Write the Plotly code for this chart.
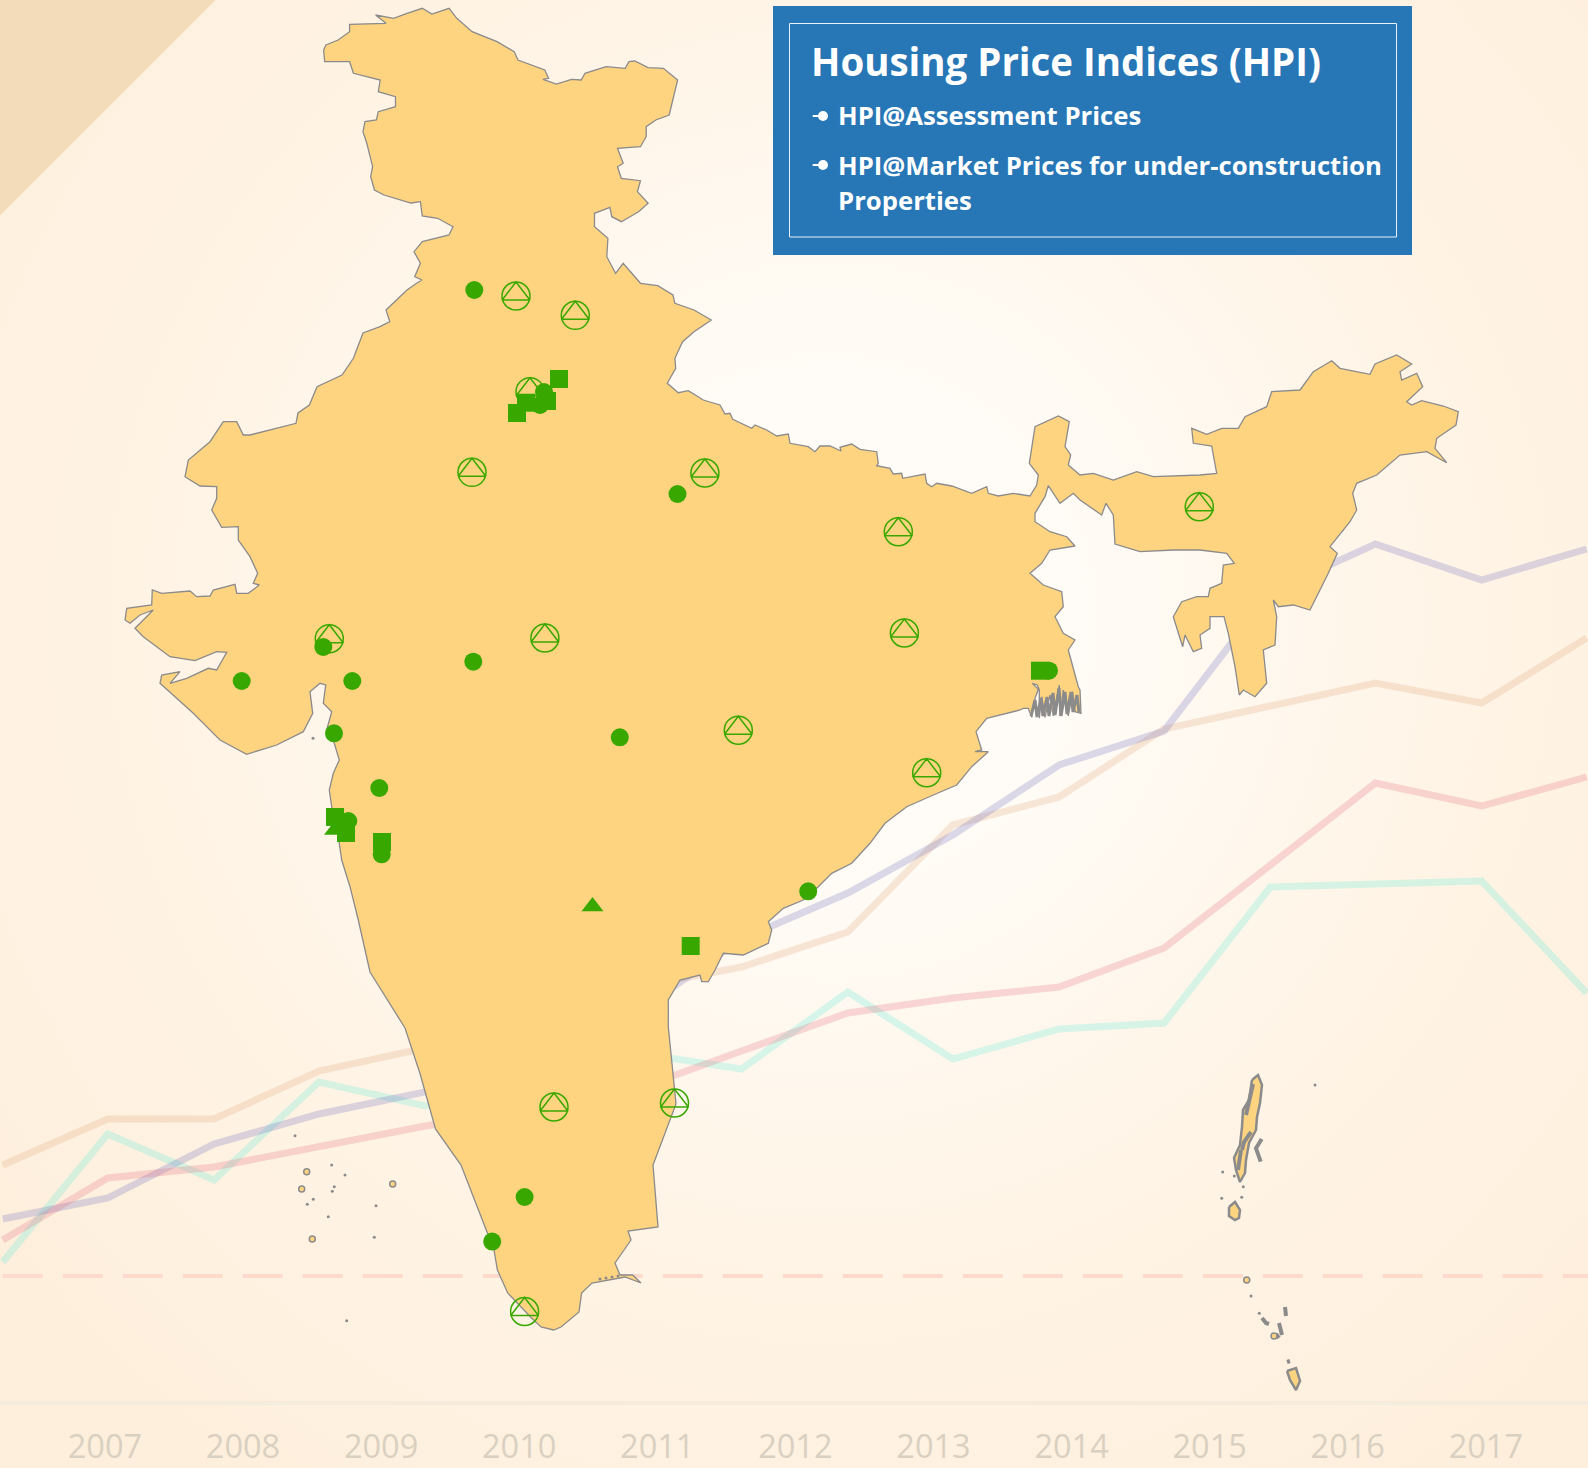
import base64
import plotly.graph_objects as go

# ---------- background line series ----------
periods = [2006.26, 2007.02, 2007.79, 2008.55, 2009.32, 2010.08, 2010.85, 2011.61,
           2012.38, 2013.14, 2013.91, 2014.67, 2015.44, 2016.2, 2016.97, 2017.73]
peach = [236, 282, 282, 330, 353, 388, 414, 434, 469, 576, 604, 672, 695, 718, 698, 763]
purple = [182, 203, 257, 287, 309, 348, 388, 462, 508, 566, 636, 670, 809, 857, 821, 852]
pink = [161, 223, 234, 254, 275, 292, 312, 350, 388, 403, 414, 453, 535, 618, 595, 624]
teal = [139, 267, 221, 319, 295, 327, 348, 332, 409, 342, 372, 378, 514, 517, 520, 408]
base_x = [2006.26, 2017.74]
base_y = [125, 125]
year_ticks = list(range(2007, 2018))

# ---------- map outline (map units, y down), traced in four stretches ----------
north_x = [323.6,325.9,338.1,349.6,349.6,375.6,386,375.6,393.6,407,422.3,431.9,449.1,456.8,472.1,497,514.2,518,544.8,548.6,542.9,556.3,571.6,581.2,585,606,625.2,629,634.7,648.1,663.4,677.6,669.2,655.8,646.2,646.2,640.5,617.5,623.2,617.5,621.3,640.5,637.4,648.1,638.6,621.3,611.8,609.9,594.5,594.5,607.9,606.8,615.6,623.2,640.5,657.7,673,674.9,694,711.3,694,682.6,674.9,675.7]
north_y = [50,45,40,31.7,24.3,23.3,23.3,15,18.3,13.3,8.3,14,8.3,18.3,31.7,41.7,51.7,60,70,78.3,79.3,84,79.3,80,73.3,66.7,68.3,61.7,61,67.7,68.3,80,115,120,126.7,136.7,146.7,148.3,163.3,166.7,178.3,180.7,191.7,203.3,211.7,221.7,216.7,207.3,213.3,226.7,238.3,256.7,273.3,263.3,283.3,285.7,295,303.3,310,320,331.7,341.7,358.3,368.3]
nepal_x = [667.3,678.3,688.3,703.3,720,725,730,732.7,751.7,755,766.7,776.7,788.3,790,808.3,815,820,830,841,840,851.7,860,876.7,878.3,876.7,890,893.3,901.7,902.7,925,926.7,931.7,936.7,951.7,971.7,986.7,988.3,998.3,1013.3,1030,1036.7,1038.3,1029.3,1035]
nepal_y = [383.3,392.7,390.7,400,405,414,413.3,419.3,428.3,425,430,436,434,443.3,446.7,451.7,446,446,451,447.3,444,449.3,451.7,463.3,465.7,468.3,474,473.3,478.3,474,483.3,486.7,483.3,486,493.3,486.7,493.3,496,493.3,496,485,475,463.3,426.7]
east_x = [1058.3,1069.3,1065,1070.7,1068.3,1080,1093.3,1113.3,1136.7,1153.3,1200,1216.7,1213.3,1211.7,1193.3,1191.7,1206.7,1221.7,1238.3,1245,1266.7,1271.7,1300,1313.3,1331.7,1340,1370,1375,1396.7,1411.7,1400,1401.7,1416.7,1422.7,1406.7,1411.7,1421.7,1443.3,1458.3,1456,1436.7,1435,1446.7,1426.7,1400,1376.7,1356.7,1352.7,1356.7,1350,1330,1337.3,1328.3,1310,1293.3,1278.3,1273.3,1276.7,1275,1263.3,1266.7,1255,1243.3,1239.3,1235,1228.3,1224,1210,1210,1200,1201.7,1193.3,1185,1182.7,1173.3,1181.7,1196.7,1208.3,1210,1221.7,1223.3,1234.3,1226.7,1200,1173.3,1140,1115,1113.3,1106,1101.7,1080,1073.3,1060,1048.3,1045,1035,1035,1050,1066.7,1075,1050,1041.7,1030,1043.3,1061.7,1063.3,1055,1063.3,1075,1068.3,1078.3,1080,1081,1075,1072.7,1068.3,1063.3,1060,1059.3,1053.3,1050,1045,1041.7,1039.3,1039.3,1037.3,1032.3,1038.3,1035,1031.7,1028.3,1023.3]
east_y = [416,421.7,446.7,455,465,475,473.3,480,471.7,476.7,475,473.3,455,446,443.3,428.3,434.3,428.3,428.3,416.7,406.7,391.7,390,371.7,360.7,368.3,374.3,364,355,364,371.7,380,373.3,386.7,401.7,405,400.7,406,411.7,425,438.3,448.3,462.7,451.7,455,475,483.3,493.3,510,521.7,546.7,553.3,573.3,610,605,606.7,600,616.7,645,650,683.3,696.7,690,695,666.7,633.3,616.7,616.7,628.3,635,648.3,651.7,635,646.7,616.7,601.7,596.7,596.7,588.3,583.3,565,563.3,553.3,550,550,551.7,544,515,503.3,515,500,493.3,503.3,485.7,496.7,513.3,521.7,531.7,536.7,546,550,563.3,573.3,585,591.7,606.7,616.7,633.3,640,650,686.7,690,713.3,711.7,691.7,716,690,716,685,716,695,717.3,696.7,718.3,690,685,683.3,689.3,698.3,717.3,708.3,708.3]
coast_x = [1020,1000,986.7,976,981.7,975,988.3,971.7,956.7,933.3,906.7,885,870,851.7,831.7,818.3,803.3,783.3,768.3,771.7,768.3,743.3,723.3,715,708.3,701.7,700,680,668.3,668.3,671.7,676]
coast_y = [710,715,718.3,731.7,750,751.7,751.7,766.7,785,795,806.7,823.3,843.3,863.3,873.3,886.7,900,908.3,921.7,930,943.3,955,953.3,970,981.7,981.7,975,980,1000,1026.7,1060,1104]
west_x = [653,658,628,631,615,620,632.6,641,625,592,581.6,579,561,553.6,541,530.6,507.7,497.4,494,461,435.5,420,405,370,358.3,350,341.7,338.3,331.7,329.3,333.3,339.3,333.3,326.7,331.7,323.3,325.7,320,310,312.7,303.3,276.7,246.7,220,193.3,160,161.7,180,170,186.7,208.3,216.7,226.7,216.7,195,170,143.3,135,153.3,140,130,125,126.7,151.7,152.3,161.7,190,196.7,210,213.3,235,236.7,248.3,259.3,253.3,257.7,250,238.3,238.3,221.7,211.7,216.7,216.7,200,185,188.3,210,223.3,236.7,243.3,250,284.6,296,298,309.4,317,342,353.4,363,380,389.8,386,407,416.6,422,414.7,420.4,414,422.3,449,453,437.6,422.3,420.4,410.9,384,374.5,370.7,372.6,366.8,363,365,376.4,378.3,395.5,395.5,378.3,380.2,353.4,349.6,324.7,323.6]
west_y = [1165,1227,1231,1240,1263,1275,1275,1283,1277,1283,1293,1312,1327,1330,1327,1317,1293,1270,1250,1165,1129,1073.5,1028,972,920,886.7,860,836.7,806.7,790,773.3,760,740,730,711.7,703.3,685,683.3,691.7,713.3,731.7,745,754.3,740,713.3,683.3,675,671.7,683.3,678.3,668.3,670,652.3,651.7,660.7,656.7,636.7,628.3,610,615,623.3,620,608.3,605,590,593.3,591,596.7,596,590,584.3,593.3,593.3,585,583.3,573.3,556.7,540,526.7,527.3,510,498.3,486.7,486,476.7,460,441.7,421.7,421.7,435,435,426.7,423.3,413,405,386.7,375,358.3,333,326.7,321.7,310,290,283.3,280,276.7,263.3,251.7,241.7,235,226.7,218.3,216,201.7,203,195,190,176.7,166.7,143.3,131.7,121.7,120,111.7,106.7,96.7,91.7,80,73.3,61.7,61.7,50]
main_x = north_x + nepal_x + east_x + coast_x + west_x
main_y = north_y + nepal_y + east_y + coast_y + west_y

# islands
andaman_x = [1252,1258,1262,1260,1257,1256,1249,1246,1245,1240,1236,1234,1240,1242,1243,1249,1252]
andaman_y = [1080,1075,1085,1103,1117,1130,1143,1160,1173,1182,1170,1158,1145,1127,1110,1100,1080]
little_x = [1229,1235,1240,1239,1235,1229,1229]
little_y = [1207,1202,1210,1218,1220,1216,1207]
great_x = [1287,1296,1300,1296,1290,1287]
great_y = [1371,1368,1381,1390,1380,1371]
gray_strokes_x = [1253,1249,1246,None,1251,1244,1242,None,1241,1238,None,1261.7,1256,1260.7,None,1285,1286,None,1279,1282,None,1262,1266,1269,None,1276,1279,None,1287,1290]
gray_strokes_y = [1084,1100,1115,None,1132,1142,1150,None,1150,1170,None,1139,1148.3,1161.7,None,1307,1316,None,1323,1335,None,1318,1323,1324,None,1334,1338,None,1362,1361]
delta_x = [1031,1035,1037,1041,1043,1047,1049,1053,1055,1059,1061,1065,1067,1071,1073,1077,1079]
delta_y = [716,700,717,698,716,697,716,693,715,688,716,692,714,692,712,695,712]
dots_x = [1222.7,1315,1221.7,1243.3,1241.7,1234.3,1251,1259.3,295,331.7,345,334.3,332.3,313.3,307.3,328.3,376,374.3,346.7,313,600,606,612,618]
dots_y = [1172,1085,1198.3,1186.7,1197.3,1176,1296,1313.3,1135.7,1165,1175,1186.7,1191.3,1199.3,1204.3,1216.7,1205.7,1237.3,1320.7,738.3,1279,1278,1277,1276]
small_isl_x = [1246.7,1274,306.7,301.7,392.7,312.3]
small_isl_y = [1280,1336,1171.7,1189,1184,1239]

# ---------- site markers ----------
circle_x = [474.3,677.5,323.3,241.7,352.3,334,379.3,348.3,381.7,473.3,619.8,808.2,524.6,492.2,544,540,1049]
circle_y = [290,494,647,681,681,733.3,788,821,854.3,661.7,737.3,891.3,1197,1241.6,392,405,670.7]
square_x = [559,547,526,517,335,346,382,690.7,1040]
square_y = [379,401,402.7,413,817,833,842,946,670.7]
triangle_x = [592.5,335]
triangle_y = [906.5,830]
open_x = [516,575.3,530,472,704.9,898.3,1199.3,329.3,544.9,904.4,738.3,926.7,554,674.5,524.6]
open_y = [296,315.3,391.7,472.3,473,531.7,506.7,638.7,638,633,730.2,772.7,1107,1103,1311.5]

# ---------- panel text ----------
panel_title = "Housing Price Indices (HPI)"
panel_items = ["HPI@Assessment Prices", "HPI@Market Prices for under-construction", "Properties"]
bullet_x = [823, 823]
bullet_y = [116, 165]

W, H = 1588, 1468
GREEN = "#38a800"
LAND = "#fed481"
EDGE = "#8b8b8b"
FONT = "Open Sans"
AXIS_Y = 1401

svg = f'''<svg xmlns="http://www.w3.org/2000/svg" width="{W}" height="{H}"><defs>
<radialGradient id="g" gradientUnits="userSpaceOnUse" cx="830" cy="620" r="1050">
<stop offset="0" stop-color="#fffefc"/><stop offset="0.25" stop-color="#fffbf5"/>
<stop offset="0.6" stop-color="#fff4e6"/><stop offset="1" stop-color="#feefdc"/>
</radialGradient></defs><rect width="{W}" height="{H}" fill="url(#g)"/></svg>'''
bg = "data:image/svg+xml;base64," + base64.b64encode(svg.encode()).decode()

fig = go.Figure()

# background lines on the year axis (translucent, they blend where they cross)
for ys, col in [(peach, "rgba(227,170,128,0.27)"), (teal, "rgba(90,235,215,0.25)"),
                (purple, "rgba(107,106,190,0.25)"), (pink, "rgba(227,106,128,0.25)")]:
    fig.add_trace(go.Scatter(x=periods, y=ys, mode="lines", line=dict(color=col, width=7),
                             hoverinfo="skip", xaxis="x", yaxis="y"))
fig.add_trace(go.Scatter(x=base_x, y=base_y, mode="lines",
                         line=dict(color="#fddacc", width=4, dash="40px,20px"),
                         hoverinfo="skip", xaxis="x", yaxis="y"))


def map_trace(**kw):
    fig.add_trace(go.Scatter(hoverinfo="skip", xaxis="x2", yaxis="y2", **kw))


map_trace(x=main_x, y=main_y, mode="lines", fill="toself", fillcolor=LAND,
          line=dict(color=EDGE, width=1.3))
for xs, ys in [(andaman_x, andaman_y), (little_x, little_y), (great_x, great_y)]:
    map_trace(x=xs, y=ys, mode="lines", fill="toself", fillcolor=LAND, line=dict(color=EDGE, width=2.5))
map_trace(x=gray_strokes_x, y=gray_strokes_y, mode="lines", line=dict(color=EDGE, width=4))
map_trace(x=delta_x, y=delta_y, mode="lines", line=dict(color=EDGE, width=3))
map_trace(x=dots_x, y=dots_y, mode="markers", marker=dict(color=EDGE, size=3, symbol="circle"))
map_trace(x=small_isl_x, y=small_isl_y, mode="markers",
          marker=dict(color=LAND, size=6, symbol="circle", line=dict(color=EDGE, width=1.5)))

# site markers
map_trace(x=open_x, y=open_y, mode="markers",
          marker=dict(symbol="circle-open", size=28, line=dict(color=GREEN, width=1.5), color=GREEN))
map_trace(x=open_x, y=[v - 2 for v in open_y], mode="markers",
          marker=dict(symbol="triangle-up-open", size=24, line=dict(color=GREEN, width=1.5), color=GREEN))
map_trace(x=triangle_x, y=triangle_y, mode="markers",
          marker=dict(symbol="triangle-up", size=19, color=GREEN))
map_trace(x=circle_x, y=circle_y, mode="markers", marker=dict(symbol="circle", size=18, color=GREEN))
map_trace(x=square_x, y=square_y, mode="markers", marker=dict(symbol="square", size=18, color=GREEN))

# panel bullets
map_trace(x=bullet_x, y=bullet_y, mode="markers", marker=dict(symbol="circle", size=10, color="white"))
map_trace(x=[v - 4 for v in bullet_x], y=bullet_y, mode="markers",
          marker=dict(symbol="line-ew", size=9, line=dict(color="white", width=2)))

annots = [dict(text=f"<b>{panel_title}</b>", x=809, y=61, font=dict(size=38.45, color="white", family=FONT))]
for txt, y in zip(panel_items, [115, 165, 200]):
    annots.append(dict(text=f"<b>{txt}</b>", x=836, y=y, font=dict(size=25.7, color="white", family=FONT)))
for a in annots:
    a.update(xref="x2", yref="y2", showarrow=False, xanchor="left", yanchor="middle")

fig.update_layout(
    width=W, height=H, margin=dict(l=0, r=0, t=0, b=0, autoexpand=False),
    paper_bgcolor="#fff3e4", plot_bgcolor="rgba(0,0,0,0)", showlegend=False,
    font=dict(family=FONT),
    annotations=annots,
    images=[dict(source=bg, xref="paper", yref="paper", x=0, y=1, sizex=1, sizey=1,
                 xanchor="left", yanchor="top", sizing="stretch", layer="below")],
    shapes=[
        dict(type="path", path="M 0 0 L 215.5 0 L 0 215.5 Z", xref="x2", yref="y2",
             fillcolor="#f2dcba", line=dict(width=0), layer="below"),
        dict(type="rect", x0=773, x1=1412, y0=6, y1=255, xref="x2", yref="y2",
             fillcolor="#2776b6", line=dict(width=0), layer="below"),
        dict(type="rect", x0=789.5, x1=1396.5, y0=23.5, y1=237, xref="x2", yref="y2",
             fillcolor="rgba(0,0,0,0)", line=dict(color="#e8f0f7", width=1), layer="below"),
    ],
    xaxis=dict(range=[2006.24, 2017.74], domain=[0, 1], anchor="y", tickvals=year_ticks,
               ticktext=[str(y) for y in year_ticks], showgrid=False, zeroline=False,
               automargin=False,
               showline=True, linecolor="#f6ecdd", linewidth=4,
               ticks="outside", ticklen=14, tickcolor="rgba(0,0,0,0)", tickwidth=1,
               tickfont=dict(size=32.5, color="#dad0c1", family=FONT)),
    yaxis=dict(range=[0, AXIS_Y], domain=[(H - AXIS_Y) / H, 1], anchor="x", visible=False, automargin=False),
    xaxis2=dict(range=[0, W], domain=[0, 1], anchor="y2", visible=False, automargin=False),
    yaxis2=dict(range=[H, 0], domain=[0, 1], anchor="x2", visible=False, automargin=False),
)

fig.write_html("out.html", config={"displayModeBar": False},
               post_script="document.body.style.margin='0';document.documentElement.style.overflow='hidden';")
